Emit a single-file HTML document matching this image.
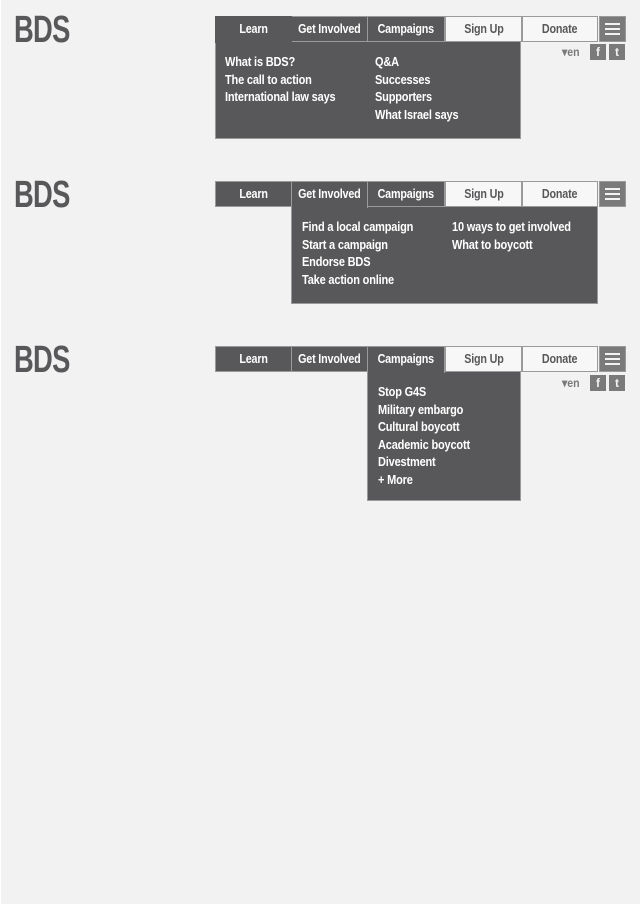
<!DOCTYPE html>
<html><head><meta charset="utf-8"><style>
*{margin:0;padding:0;box-sizing:border-box}
html,body{width:641px;height:906px;background:#fff;overflow:hidden}
#pg{position:absolute;left:1px;top:0;width:639px;height:904px;background:#f2f2f2}
.a{position:absolute}
body{font-family:"Liberation Sans",sans-serif;font-weight:bold}
.logo{font-size:38px;color:#58585a;letter-spacing:-1px;line-height:1;transform:scaleX(.72);transform-origin:0 0}
.t{position:absolute;height:26px;font-size:12.5px;line-height:24px;text-align:center;letter-spacing:-0.2px}
.t span{display:inline-block;transform:scaleX(.86);white-space:nowrap}
.d{background:#58585a;color:#fff;border:1px solid #9a9a9a}
.l{background:#f7f7f7;color:#58585a;border:1px solid #9a9a9a}
.act{border-bottom:none;height:27px;z-index:2}
.m{position:absolute;width:27px;height:26px;background:#7a7a7a;border:1px solid #9a9a9a}
.m i{position:absolute;left:5px;width:15px;height:2px;background:#f2f2f2}
.dd{position:absolute;background:#58585a;border:1px solid #9a9a9a;border-top:none;color:#fff;font-size:12.5px;line-height:17.5px;letter-spacing:-0.2px}
.dd div{position:absolute;transform:scaleX(.88);transform-origin:0 0;white-space:nowrap}
.sm{position:absolute;font-size:12px;color:#7a7a7a;transform:scaleX(.88);transform-origin:0 0}
.sq{position:absolute;width:16px;height:16px;background:#7a7a7a;color:#f2f2f2;font-size:12px;text-align:center;line-height:16px}
</style></head><body><div id="pg"></div>

<!-- 1 -->
<div class="a logo" style="left:14px;top:11px">BDS</div>
<div class="t d act" style="left:215px;top:16px;width:77px;border-color:#58585a"><span>Learn</span></div>
<div class="t d" style="left:291px;top:16px;width:77px"><span>Get Involved</span></div>
<div class="t d" style="left:367px;top:16px;width:78px"><span>Campaigns</span></div>
<div class="t l" style="left:445px;top:16px;width:77px"><span>Sign Up</span></div>
<div class="t l" style="left:522px;top:16px;width:76px"><span>Donate</span></div>
<div class="m" style="left:599px;top:16px"><i style="top:6px"></i><i style="top:11px"></i><i style="top:16px"></i></div>
<div class="dd" style="left:215px;top:42px;width:306px;height:97px">
<div style="left:9px;top:12px">What is BDS?<br>The call to action<br>International law says</div>
<div style="left:159px;top:12px">Q&amp;A<br>Successes<br>Supporters<br>What Israel says</div>
</div>
<div class="sm" style="left:562px;top:45px">▾en</div>
<div class="sq" style="left:590px;top:44px">f</div>
<div class="sq" style="left:609px;top:44px">t</div>

<!-- 2 -->
<div class="a logo" style="left:14px;top:176px">BDS</div>
<div class="t d" style="left:215px;top:181px;width:77px"><span>Learn</span></div>
<div class="t d act" style="left:291px;top:181px;width:77px;border-color:#9a9a9a"><span>Get Involved</span></div>
<div class="t d" style="left:367px;top:181px;width:78px"><span>Campaigns</span></div>
<div class="t l" style="left:445px;top:181px;width:77px"><span>Sign Up</span></div>
<div class="t l" style="left:522px;top:181px;width:76px"><span>Donate</span></div>
<div class="m" style="left:599px;top:181px"><i style="top:6px"></i><i style="top:11px"></i><i style="top:16px"></i></div>
<div class="dd" style="left:291px;top:207px;width:307px;height:97px">
<div style="left:10px;top:12px">Find a local campaign<br>Start a campaign<br>Endorse BDS<br>Take action online</div>
<div style="left:160px;top:12px">10 ways to get involved<br>What to boycott</div>
</div>

<!-- 3 -->
<div class="a logo" style="left:14px;top:341px">BDS</div>
<div class="t d" style="left:215px;top:346px;width:77px"><span>Learn</span></div>
<div class="t d" style="left:291px;top:346px;width:77px"><span>Get Involved</span></div>
<div class="t d act" style="left:367px;top:346px;width:78px"><span>Campaigns</span></div>
<div class="t l" style="left:445px;top:346px;width:77px"><span>Sign Up</span></div>
<div class="t l" style="left:522px;top:346px;width:76px"><span>Donate</span></div>
<div class="m" style="left:599px;top:346px"><i style="top:6px"></i><i style="top:11px"></i><i style="top:16px"></i></div>
<div class="dd" style="left:367px;top:372px;width:154px;height:129px">
<div style="left:10px;top:12px">Stop G4S<br>Military embargo<br>Cultural boycott<br>Academic boycott<br>Divestment<br>+ More</div>
</div>
<div class="sm" style="left:562px;top:376px">▾en</div>
<div class="sq" style="left:590px;top:375px">f</div>
<div class="sq" style="left:609px;top:375px">t</div>
</body></html>
